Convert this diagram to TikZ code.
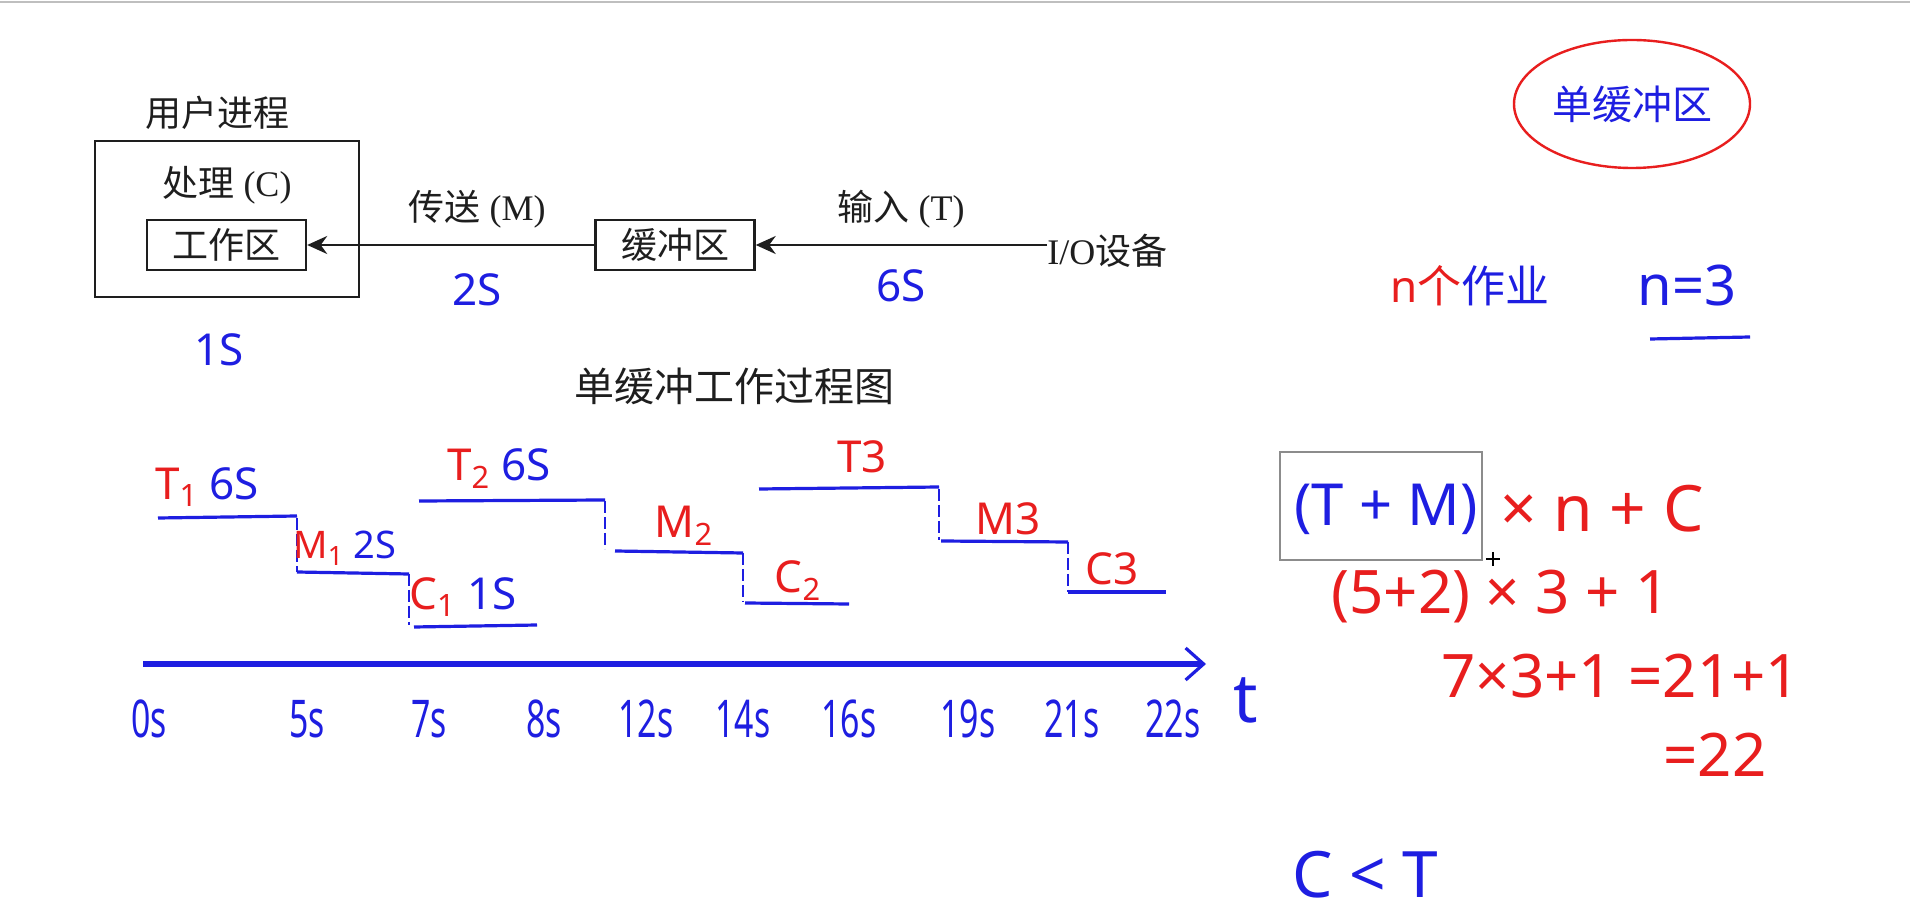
\documentclass[tikz,border=0pt]{standalone}
\usepackage{fontspec}
\usepackage{graphicx}
\setmainfont{Liberation Serif}
\newfontfamily\cjk{Noto Sans CJK SC}
\newfontfamily\hand{Noto Sans}
\usetikzlibrary{arrows.meta,shapes.geometric}
\definecolor{pen}{RGB}{30,30,225}
\definecolor{redpen}{RGB}{232,30,30}
\definecolor{ink}{RGB}{30,30,30}
\newcommand{\nar}[1]{\scalebox{0.65}[1]{#1}}
\begin{document}
\begin{tikzpicture}[x=0.5pt,y=-0.5pt,
  prt/.style={text=ink,inner sep=0pt,font=\fontsize{18}{20}\selectfont},
  pbox/.style={draw=ink,line width=1.2pt,inner sep=0pt},
  hw/.style={text=pen,inner sep=0pt,font=\hand\fontsize{22}{24}\selectfont},
  hwr/.style={hw,text=redpen},
  tick/.style={hw,font=\hand\fontsize{26}{28}\selectfont},
  big/.style={hw,font=\hand\fontsize{32}{34}\selectfont},
  mid/.style={hwr,font=\hand\fontsize{30}{32}\selectfont},
  stepline/.style={pen,line width=1.6pt},
  stepdrop/.style={pen,line width=0.9pt,dash pattern=on 6pt off 2pt},
  ptr/.style={ink,line width=1.2pt,-{Stealth[length=10pt,width=9pt]}}
]
\useasboundingbox (0,0) rectangle (1910,913);
\fill[white] (0,0) rectangle (1910,913);
\draw[black!25,line width=0.8pt] (0,2) -- (1910,2);

% ---- top diagram ----
\node[prt] (user) at (217,113) {\cjk 用户进程};
\node[pbox,minimum width=132pt,minimum height=78pt] (proc) at (227,219) {};
\node[prt] (pc) at (227,185) {{\cjk 处理} (C)};
\node[prt,pbox,minimum width=79.5pt,minimum height=25pt] (work) at (226.5,245) {\cjk 工作区};
\node[prt,pbox,minimum width=79.5pt,minimum height=25pt] (buf) at (675,245) {\cjk 缓冲区};
\node[prt,anchor=west] (io) at (1047,251) {I/O{\cjk 设备}};
\draw[ptr] (io.west |- buf.east) -- (buf.east);
\draw[ptr] (buf.west) -- (work.east);
\node[prt] (tmlab) at (477,209) {{\cjk 传送} (M)};
\node[prt] (tilab) at (901,209) {{\cjk 输入} (T)};
\node[hw] (m2s) at (477,290) {2S};
\node[hw] (t6s) at (901,286) {6S};
\node[hw] (c1s) at (219,350) {1S};
\node[prt,font=\cjk\fontsize{20}{22}\selectfont] (title) at (734,386) {单缓冲工作过程图};

% ---- timeline ----
\coordinate (a0) at (143,664);
\coordinate (a1) at (1206,664);
\draw[pen,line width=2.6pt,-{Straight Barb[length=9pt,width=16pt,line width=1.6pt]}] (a0) -- (a1);
\foreach \x/\l [count=\i] in {149/0s,307/5s,429/7s,544/8s,646/12s,743/14s,849/16s,968/19s,1072/21s,1173/22s}
  \node[tick] (tk\i) at (\x,719) {\nar{\l}};
\node[tick,font=\hand\fontsize{34}{36}\selectfont] (tt) at (1246,700) {t};

% ---- step lines ----
\draw[stepline] (158,518) -- (297,516);
\draw[stepdrop] (297,518) -- (297,572);
\draw[stepline] (297,572) -- (409,574);
\draw[stepdrop] (409,574) -- (409,625);
\draw[stepline] (414,627) -- (537,625);
\draw[stepline] (419,501) -- (605,500);
\draw[stepdrop] (605,501) -- (605,549);
\draw[stepline] (615,551) -- (743,553);
\draw[stepdrop] (743,553) -- (743,602);
\draw[stepline] (745,603) -- (849,604);
\draw[stepline] (759,489) -- (939,487);
\draw[stepdrop] (939,489) -- (939,540);
\draw[stepline] (941,541) -- (1068,542);
\draw[stepdrop] (1068,542) -- (1068,592);
\draw[stepline] (1068,592) -- (1166,592);

\node[hw] (lt1) at (207,487) {{\color{redpen}T\textsubscript{1}} 6S};
\node[hw,font=\hand\fontsize{19}{21}\selectfont] (lm1) at (345,548) {{\color{redpen}M\textsubscript{1}} 2S};
\node[hw] (lc1) at (463,597) {{\color{redpen}C\textsubscript{1}} 1S};
\node[hw] (lt2) at (499,469) {{\color{redpen}T\textsubscript{2}} 6S};
\node[hwr] (lm2) at (684,526) {M\textsubscript{2}};
\node[hwr] (lc2) at (798,581) {C\textsubscript{2}};
\node[hwr] (lt3) at (862,457) {T3};
\node[hwr] (lm3) at (1008,519) {M3};
\node[hwr] (lc3) at (1112,569) {C3};

% ---- right notes ----
\node[ellipse,draw=redpen,line width=1.2pt,minimum width=118pt,minimum height=64pt,inner sep=0pt,text=pen,font=\cjk\fontsize{20}{22}\selectfont] (sb) at (1632,104) {单缓冲区};
\node[hw,font=\fontsize{22}{24}\selectfont] (nj) at (1470,286) {{\hand\color{redpen}n}{\cjk\color{redpen}个}{\cjk 作业}};
\node[hw,font=\hand\fontsize{28}{30}\selectfont] (n3) at (1687,286) {n=3};
\coordinate (u0) at (1650,339);
\coordinate (u1) at (1750,337);
\draw[pen,line width=1.6pt] (u0) -- (u1);
\node[draw=black!45,line width=0.8pt,minimum width=101pt,minimum height=54pt,inner sep=0pt] (gbox) at (1381,506) {};
\node[big,font=\hand\fontsize{29}{31}\selectfont] (tpm) at (1386,509) {(T + M)};
\node[big,text=redpen,anchor=west] (xnc) at (1500,509) {× n + C};
\draw[black,line width=0.7pt] (1486,559) -- (1500,559) (1493,552) -- (1493,566);
\node[mid,anchor=west] (f1) at (1331,597) {(5+2) × 3 + 1};
\node[mid,anchor=west] (f2) at (1441,676) {7×3+1 =21+1};
\node[mid,anchor=west] (f3) at (1663,755) {=22};
\node[big] (ct) at (1365,875) {C < T};
\end{tikzpicture}
\end{document}
